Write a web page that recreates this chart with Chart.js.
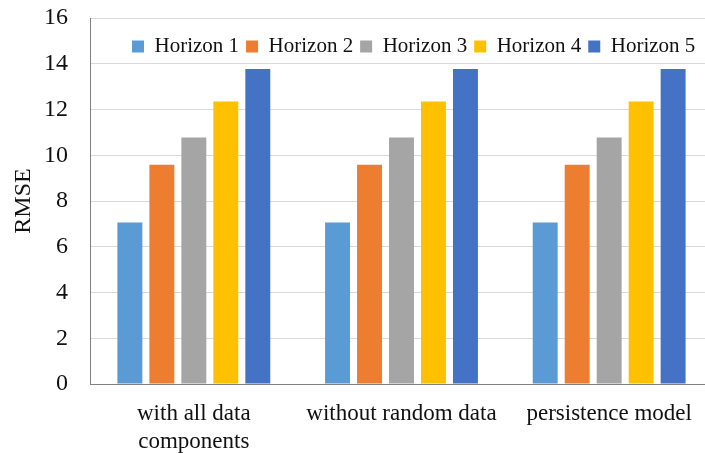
<!DOCTYPE html>
<html>
<head>
<meta charset="utf-8">
<script src="https://cdn.jsdelivr.net/npm/chart.js@4"></script>
<style>
  html, body { margin: 0; padding: 0; background: #fff; overflow: hidden; }
  #wrap { position: absolute; left: 0; top: 0; width: 720px; height: 453px; }
</style>
</head>
<body>
<div id="wrap"><canvas id="rmseChart"></canvas></div>
<script>
// Categories (models) and RMSE per forecast horizon
const models = [['with all data', 'components'], 'without random data', 'persistence model'];
const horizonNames = ['Horizon 1', 'Horizon 2', 'Horizon 3', 'Horizon 4', 'Horizon 5'];
const horizon1 = [7.06, 7.06, 7.06];
const horizon2 = [9.58, 9.58, 9.58];
const horizon3 = [10.78, 10.78, 10.78];
const horizon4 = [12.35, 12.35, 12.35];
const horizon5 = [13.77, 13.77, 13.77];
const yTicks = [0, 2, 4, 6, 8, 10, 12, 14, 16];

const colors = ['#5B9BD5', '#ED7D31', '#A5A5A5', '#FFC000', '#4472C4'];
const series = [horizon1, horizon2, horizon3, horizon4, horizon5];
const serif = '"Liberation Serif", "Times New Roman", serif';
const textColor = '#111111';

// Legend sits inside the plot area, just under the top gridline
const legendInside = {
  id: 'legendInside',
  beforeDraw(chart) {
    const lg = chart.legend;
    if (!lg) return;
    lg.top = 29;
    lg.bottom = 72;
    lg.left = 125;
    lg.right = 720;
  }
};

new Chart(document.getElementById('rmseChart'), {
  type: 'bar',
  data: {
    labels: models,
    datasets: series.map((vals, i) => ({
      label: horizonNames[i],
      data: vals,
      backgroundColor: colors[i],
      borderWidth: 0,
      categoryPercentage: 0.77,
      barPercentage: 0.78
    }))
  },
  options: {
    responsive: true,
    maintainAspectRatio: false,
    animation: false,
    layout: { padding: { top: 17, right: 7, bottom: 0, left: 0 } },
    plugins: {
      legend: {
        position: 'top',
        align: 'start',
        maxHeight: 1,
        labels: {
          boxWidth: 12,
          boxHeight: 12,
          padding: 7,
          color: textColor,
          font: { family: serif, size: 21 }
        }
      },
      tooltip: { enabled: false }
    },
    scales: {
      x: {
        grid: { display: false },
        border: { display: true, color: '#7f7f7f', width: 1 },
        ticks: {
          color: textColor,
          padding: 8,
          maxRotation: 0,
          font: { family: serif, size: 23, lineHeight: 1.22 }
        },
        afterFit(scale) { scale.height = 69; }
      },
      y: {
        min: 0,
        max: 16,
        afterBuildTicks(scale) { scale.ticks = yTicks.map(v => ({ value: v })); },
        grid: { color: '#d9d9d9', lineWidth: 1, drawTicks: false },
        border: { display: true, color: '#7f7f7f', width: 1 },
        ticks: {
          color: textColor,
          padding: 22,
          font: { family: serif, size: 24 }
        },
        title: {
          display: true,
          text: 'RMSE',
          color: textColor,
          padding: { top: 9, bottom: 0 },
          font: { family: serif, size: 24 }
        },
        afterFit(scale) {
          scale.width = 90;
          scale.paddingTop = 0;
          scale.paddingBottom = 0;
        }
      }
    }
  },
  plugins: [legendInside]
});
</script>
</body>
</html>
